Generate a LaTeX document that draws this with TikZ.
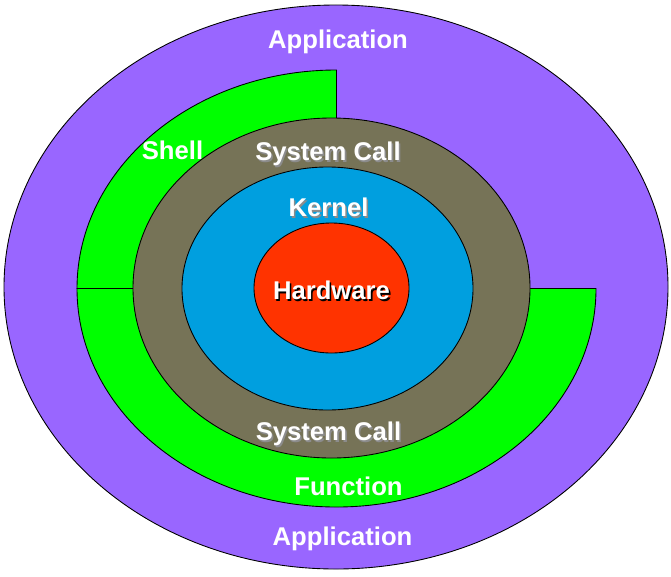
\documentclass[tikz,border=0pt]{standalone}
\usepackage{fontspec}
\setmainfont{Liberation Sans}
\usepackage{xcolor}
\usetikzlibrary{positioning}
\definecolor{appviolet}{HTML}{9966FF}
\definecolor{shellgreen}{HTML}{00FF00}
\definecolor{callgray}{HTML}{767357}
\definecolor{kernblue}{HTML}{009FDF}
\definecolor{hwred}{HTML}{FF3300}
% white label text with a small drop shadow
\newcommand{\shadowlbl}[2]{\makebox[0pt][l]{\hspace{0.9pt}\raisebox{-0.9pt}{\color{#1}#2}}#2}
\tikzset{
  layer/.style={draw=black,line width=0.5pt},
  lbl/.style={text=white,anchor=base,inner sep=0pt,
              font=\fontsize{14.6}{17}\selectfont\bfseries}
}

\begin{document}
\begin{tikzpicture}[x=0.02cm,y=0.02cm]
        \useasboundingbox (0,0) rectangle (671,576);
        % application layer
        \draw[layer,fill=appviolet] (336,289) ellipse [x radius=332,y radius=282];
        % shell (top left) and functions (bottom half)
        \draw[layer,fill=shellgreen] (336.5,287.5) -- ++(0,218.5)
              arc[start angle=90,end angle=180,x radius=259.5,y radius=218.5] -- cycle;
        \draw[layer,fill=shellgreen] (336.5,287.5) -- ++(-259.5,0)
              arc[start angle=180,end angle=360,x radius=259.5,y radius=218.5] -- cycle;
        % system calls, kernel, hardware
        \draw[layer,fill=callgray] (331.5,288) ellipse [x radius=198.5,y radius=170];
        \draw[layer,fill=kernblue] (327.5,287.5) ellipse [x radius=145.5,y radius=121.5];
        \draw[layer,fill=hwred] (331.5,288) ellipse [x radius=77.5,y radius=65];

        \node[lbl] (apptop) at (338,527.5) {Application};
        \node[lbl] (appbot) at (342.5,30.5) {Application};
        \node[lbl] (shell) at (172.5,416.5) {Shell};
        \node[lbl] (calltop) at (328,415.5) {\shadowlbl{black!45}{System Call}};
        \node[lbl] (kernel) at (328.5,359.5) {\shadowlbl{black!45}{Kernel}};
        \node[lbl] (hw) at (331.5,276.5) {\shadowlbl{black}{Hardware}};
        \node[lbl] (callbot) at (328.5,135.5) {\shadowlbl{black!45}{System Call}};
        \node[lbl] (func) at (348.5,80.5) {Function};
      \end{tikzpicture}
\end{document}
